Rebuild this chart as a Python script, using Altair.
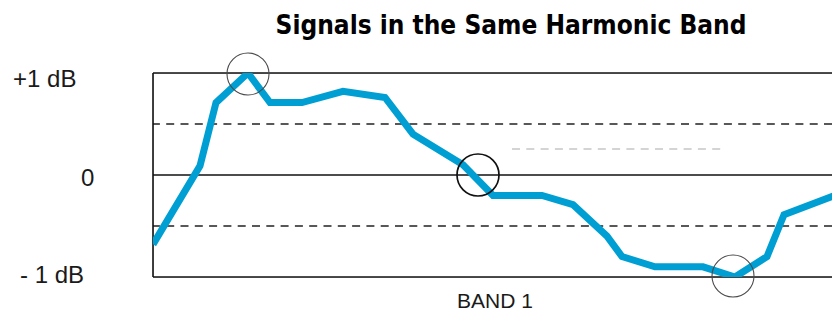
import altair as alt
import pandas as pd

# ---- data ----
# position along the band (arbitrary units) and signal level (dB)
band_pos = [0, 47, 63, 95, 117, 149, 190, 232, 260, 310, 340, 389, 420, 454,
            469, 502, 550, 582, 614, 631, 682, 697]
level_db = [-0.68, 0.09, 0.71, 1.0, 0.71, 0.71, 0.82, 0.76, 0.40, 0.10, -0.2,
            -0.2, -0.29, -0.6, -0.8, -0.9, -0.9, -1.0, -0.8, -0.39, -0.2, -0.17]

circle_pos = [95, 325, 580]
circle_db = [0.99, 0.0, -0.99]
circle_kind = ["thin", "bold", "thin"]

solid_levels = [1, 0, -1]
dashed_levels = [0.5, -0.5]

tick_labels = ["+1 dB", "0", "- 1 dB"]
tick_values = [1, 0, -1]

ref_start = [359]
ref_end = [569]
ref_level = [0.255]

title_text = "Signals in the Same Harmonic Band"
band_label = "BAND 1"
x_domain = [0, 679]
y_domain = [-1, 1]

W, H = 679, 204

xs = alt.Scale(domain=x_domain, nice=False, zero=False)
ys = alt.Scale(domain=y_domain, nice=False, zero=False)

signal = pd.DataFrame({"pos": band_pos, "db": level_db})
circles = pd.DataFrame({"pos": circle_pos, "db": circle_db, "kind": circle_kind})
solid = pd.DataFrame({"db": solid_levels})
dashed = pd.DataFrame({"db": dashed_levels})
ticks = pd.DataFrame({"label": tick_labels, "db": tick_values})
ref = pd.DataFrame({"x": ref_start, "x2": ref_end, "db": ref_level})
left = pd.DataFrame({"x": [x_domain[0]], "y": [y_domain[0]], "y2": [y_domain[1]]})

solid_rules = alt.Chart(solid).mark_rule(color="#111111", strokeWidth=1.6).encode(
    y=alt.Y("db:Q", scale=ys, axis=None)
)
dashed_rules = alt.Chart(dashed).mark_rule(
    color="#222222", strokeWidth=1.6, strokeDash=[8, 6.3]
).encode(y=alt.Y("db:Q", scale=ys, axis=None))

left_rule = alt.Chart(left).mark_rule(color="#111111", strokeWidth=1.6).encode(
    x=alt.X("x:Q", scale=xs, axis=None),
    y=alt.Y("y:Q", scale=ys, axis=None),
    y2="y2:Q",
)

ref_rule = alt.Chart(ref).mark_rule(
    color="#d4d4d4", strokeWidth=2, strokeDash=[8, 6.3]
).encode(
    x=alt.X("x:Q", scale=xs, axis=None),
    x2="x2:Q",
    y=alt.Y("db:Q", scale=ys, axis=None),
)

line = alt.Chart(signal).mark_line(
    color="#009fd3", strokeWidth=7, clip=True, strokeJoin="miter", strokeCap="butt"
).encode(
    x=alt.X("pos:Q", scale=xs, axis=None),
    y=alt.Y("db:Q", scale=ys, axis=None),
)

thin_c = alt.Chart(circles).transform_filter(alt.datum.kind == "thin").mark_point(
    shape="circle", filled=False, size=1764, color="#4a4a4a", strokeWidth=1.1, opacity=1
).encode(
    x=alt.X("pos:Q", scale=xs, axis=None),
    y=alt.Y("db:Q", scale=ys, axis=None),
)
bold_c = alt.Chart(circles).transform_filter(alt.datum.kind == "bold").mark_point(
    shape="circle", filled=False, size=1764, color="#111111", strokeWidth=1.7, opacity=1
).encode(
    x=alt.X("pos:Q", scale=xs, axis=None),
    y=alt.Y("db:Q", scale=ys, axis=None),
)

def tick_layer(lbl, xpix, dy):
    return alt.Chart(ticks).transform_filter(alt.datum.label == lbl).mark_text(
        font="Liberation Sans", fontSize=24, color="#1a1a1a", align="left",
        baseline="alphabetic", dy=dy
    ).encode(
        x=alt.value(xpix),
        y=alt.Y("db:Q", scale=ys, axis=None),
        text="label:N",
    )

tick_layers = [
    tick_layer(tick_labels[0], -140, 14),
    tick_layer(tick_labels[1], -72, 11),
    tick_layer(tick_labels[2], -133, 6),
]

title = alt.Chart(pd.DataFrame({"t": [title_text]})).mark_text(
    font="DejaVu Sans Condensed, Liberation Sans Narrow, Roboto, sans-serif",
    fontWeight="bold", fontSize=26, color="#000000",
    align="center", baseline="alphabetic"
).encode(x=alt.value(358), y=alt.value(-39), text="t:N")

band = alt.Chart(pd.DataFrame({"t": [band_label]})).mark_text(
    font="Liberation Sans", fontSize=21, color="#1a1a1a",
    align="center", baseline="alphabetic"
).encode(x=alt.value(342), y=alt.value(235), text="t:N")

chart = alt.layer(
    solid_rules, dashed_rules, left_rule, ref_rule, line, thin_c, bold_c,
    *tick_layers, title, band
).properties(
    width=W, height=H,
    autosize=alt.AutoSizeParams(type="none"),
    padding={"left": 145, "top": 65, "right": 0, "bottom": 34},
).configure_view(stroke=None).configure(background="white")

chart.save("out.html", embed_options={"renderer": "svg", "actions": False})
